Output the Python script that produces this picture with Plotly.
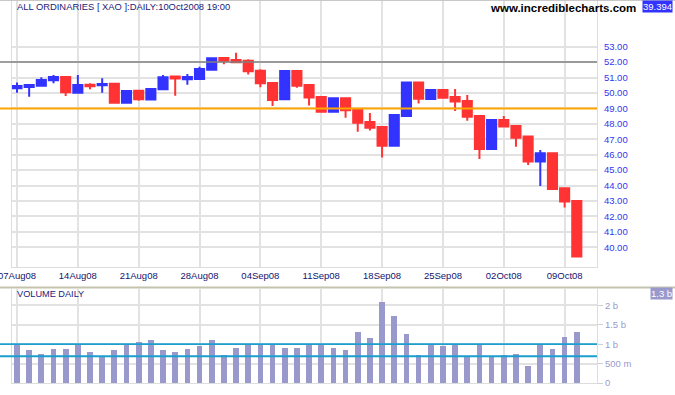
import plotly.graph_objects as go

# ---- data ----
dates = ["2008-08-07", "2008-08-08", "2008-08-11", "2008-08-12", "2008-08-13", "2008-08-14", "2008-08-15",
         "2008-08-18", "2008-08-19", "2008-08-20", "2008-08-21", "2008-08-22", "2008-08-25", "2008-08-26",
         "2008-08-27", "2008-08-28", "2008-08-29", "2008-09-01", "2008-09-02", "2008-09-03", "2008-09-04",
         "2008-09-05", "2008-09-08", "2008-09-09", "2008-09-10", "2008-09-11", "2008-09-12", "2008-09-15",
         "2008-09-16", "2008-09-17", "2008-09-18", "2008-09-19", "2008-09-22", "2008-09-23", "2008-09-24",
         "2008-09-25", "2008-09-26", "2008-09-29", "2008-09-30", "2008-10-01", "2008-10-02", "2008-10-03",
         "2008-10-06", "2008-10-07", "2008-10-08", "2008-10-09", "2008-10-10"]
open_ = [50.30, 50.39, 50.47, 50.82, 51.04, 50.02, 50.54, 50.50, 50.60, 49.37, 50.15, 49.57, 50.24, 51.06,
         50.89, 50.91, 51.51, 52.27, 52.14, 52.09, 51.44, 50.65, 49.59, 51.43, 50.52, 49.74, 48.79, 49.66,
         48.90, 48.12, 47.80, 46.58, 48.50, 50.67, 49.61, 50.19, 49.74, 49.48, 48.51, 46.37, 48.25, 47.86,
         47.17, 45.55, 46.09, 43.82, 43.00]
high = [50.67, 50.52, 51.02, 51.17, 51.04, 51.17, 50.63, 50.95, 50.62, 50.13, 50.15, 50.26, 51.17, 51.06,
        51.23, 51.70, 52.25, 52.27, 52.61, 52.18, 51.54, 50.65, 51.49, 51.43, 50.52, 49.80, 49.66, 49.66,
        48.90, 48.70, 47.85, 48.64, 50.67, 50.67, 50.19, 50.19, 50.26, 49.87, 48.51, 48.25, 48.51, 47.88,
        47.20, 46.31, 46.09, 43.82, 43.00]
low = [50.02, 49.76, 50.47, 50.63, 49.80, 50.02, 50.24, 50.02, 49.37, 49.37, 49.50, 49.57, 50.24, 49.82,
       50.54, 50.91, 51.51, 51.86, 51.92, 51.19, 50.37, 49.16, 49.59, 50.34, 49.18, 48.79, 48.79, 48.40,
       47.49, 47.56, 45.81, 46.58, 48.46, 49.31, 49.55, 49.63, 48.83, 48.20, 45.72, 46.37, 47.80, 46.52,
       45.33, 43.97, 43.71, 42.57, 39.39]
close = [50.45, 50.52, 50.84, 51.04, 50.04, 50.52, 50.43, 50.58, 49.37, 50.13, 49.59, 50.26, 51.02, 50.93,
         51.04, 51.55, 52.25, 52.09, 51.99, 51.41, 50.63, 49.55, 51.43, 50.47, 49.70, 48.79, 49.66, 48.88,
         48.07, 47.75, 46.58, 48.57, 50.67, 49.63, 50.19, 49.69, 49.44, 48.46, 46.37, 48.25, 47.82, 47.10,
         45.55, 46.09, 43.78, 42.96, 39.394]
volume_b = [1.00, 0.84, 0.75, 0.88, 0.88, 1.00, 0.81, 0.69, 0.84, 0.99, 1.05, 1.11, 0.86, 0.81, 0.88, 0.96,
            1.11, 0.73, 0.91, 1.00, 1.00, 1.00, 0.91, 0.91, 1.00, 1.00, 0.91, 0.86, 1.32, 1.17, 2.09, 1.73,
            1.27, 0.73, 1.00, 0.96, 0.99, 0.70, 1.01, 0.69, 0.73, 0.75, 0.45, 0.99, 0.88, 1.19, 1.32]

tick_dates = ["2008-08-07", "2008-08-14", "2008-08-21", "2008-08-28", "2008-09-04",
              "2008-09-11", "2008-09-18", "2008-09-25", "2008-10-02", "2008-10-09"]
tick_labels = ["07Aug08", "14Aug08", "21Aug08", "28Aug08", "04Sep08",
               "11Sep08", "18Sep08", "25Sep08", "02Oct08", "09Oct08"]
price_ticks = [40, 41, 42, 43, 44, 45, 46, 47, 48, 49, 50, 51, 52, 53]
price_tick_labels = ["%.2f" % v for v in price_ticks]
vol_ticks = [0, 0.5, 1.0, 1.5, 2.0]
vol_tick_labels = ["0", "500 m", "1 b", "1.5 b", "2 b"]
price_lines = [52.0, 49.0]
vol_lines = [1.0, 0.69]

BLUE = "#3333ff"
RED = "#ff3333"
NAVY = "#1a1a7a"
GRID = "#e2e2e2"

W, H = 675, 395
ML, MR, MT, MB = 12, 78, 1, 12
PW = W - ML - MR
PH = H - MT - MB


def px_to_paper_x(px):
    return (px - ML) / PW


def px_to_paper_y(py):
    return (H - MB - py) / PH


fig = go.Figure()

fig.add_trace(go.Candlestick(
    x=dates, open=open_, high=high, low=low, close=close,
    increasing=dict(line=dict(color=BLUE, width=2), fillcolor=BLUE),
    decreasing=dict(line=dict(color=RED, width=2), fillcolor=RED),
    whiskerwidth=0, xaxis="x", yaxis="y", showlegend=False, hoverinfo="skip",
))

fig.add_trace(go.Bar(
    x=dates, y=volume_b, marker=dict(color="#9999cc", line=dict(width=0)),
    width=0.47, xaxis="x2", yaxis="y2", showlegend=False, hoverinfo="skip",
))

x_range = [-0.41, len(dates) - 1 + 1.66]

fig.update_layout(
    width=W, height=H,
    margin=dict(l=ML, r=MR, t=MT, b=MB, autoexpand=False),
    paper_bgcolor="white", plot_bgcolor="white",
    boxgap=0.25, boxgroupgap=0,
    font=dict(family="Liberation Sans, Arial, sans-serif", size=9, color=NAVY),
    xaxis=dict(
        type="category", domain=[0, 1], anchor="y", range=x_range, automargin=False,
        tickvals=tick_dates, ticktext=tick_labels, ticks="",
        showgrid=True, gridcolor=GRID, gridwidth=1.5,
        showline=True, linecolor="#dddddd", linewidth=1,
        rangeslider=dict(visible=False),
        tickfont=dict(size=9.5, color="#14146e"),
        fixedrange=True,
    ),
    yaxis=dict(
        domain=[px_to_paper_y(267), 1], anchor="x", side="right", automargin=False,
        range=[38.72, 55.96], tickvals=price_ticks, ticktext=price_tick_labels,
        ticks="", showgrid=True, gridcolor=GRID, gridwidth=1.5,
        showline=True, mirror=True, linecolor="#dddddd", linewidth=1,
        tickfont=dict(size=9.5, color="#3535ee"), ticklabelstandoff=4,
        zeroline=False,
    ),
    xaxis2=dict(
        type="category", domain=[0, 1], anchor="y2", matches="x", automargin=False,
        tickvals=tick_dates, showticklabels=False, ticks="",
        showgrid=True, gridcolor=GRID, gridwidth=1.5,
        showline=True, linecolor="#dddddd", linewidth=1,
    ),
    yaxis2=dict(
        domain=[0, px_to_paper_y(289)], anchor="x2", side="right", automargin=False,
        range=[0, 2.424], tickvals=vol_ticks, ticktext=vol_tick_labels,
        ticks="outside", ticklen=5, tickwidth=1, tickcolor="#cfcfcf",
        showgrid=True, gridcolor=GRID, gridwidth=1.5,
        showline=True, mirror=True, linecolor="#dddddd", linewidth=1,
        tickfont=dict(size=9.5, color="#9a9acc"), ticklabelstandoff=0,
        zeroline=False,
    ),
    bargap=0,
)

shapes = []
# reference lines on price panel
for val, col, wd in zip(price_lines, ["#808080", "#ffa500"], [1.5, 2]):
    shapes.append(dict(type="line", xref="paper", yref="y", x0=px_to_paper_x(0), x1=1,
                       y0=val, y1=val, line=dict(color=col, width=wd), layer="above"))
for val in vol_lines:
    shapes.append(dict(type="line", xref="paper", yref="y2", x0=px_to_paper_x(0), x1=1,
                       y0=val, y1=val, line=dict(color="#1a9fcf", width=1.8), layer="above"))
# top frame line
shapes.append(dict(type="line", xref="paper", yref="paper", x0=px_to_paper_x(0), x1=px_to_paper_x(W),
                   y0=px_to_paper_y(0.5), y1=px_to_paper_y(0.5), line=dict(color="#c8c8c8", width=1)))
# separator between panels
shapes.append(dict(type="line", xref="paper", yref="paper", x0=px_to_paper_x(0), x1=px_to_paper_x(W),
                   y0=px_to_paper_y(287.5), y1=px_to_paper_y(287.5), line=dict(color="#c4c4ae", width=2)))
fig.update_layout(shapes=shapes)

annotations = [
    dict(text="ALL ORDINARIES [ XAO ]:DAILY:10Oct2008 19:00", xref="paper", yref="paper",
         x=px_to_paper_x(15), y=px_to_paper_y(7), xanchor="left", yanchor="middle",
         showarrow=False, font=dict(size=9.4, color=NAVY)),
    dict(text="<b>www.incrediblecharts.com</b>", xref="paper", yref="paper",
         x=px_to_paper_x(638), y=px_to_paper_y(7.5), xanchor="right", yanchor="middle",
         showarrow=False, font=dict(size=11.5, color="black")),
    dict(text="39.394", xref="paper", yref="paper",
         x=px_to_paper_x(673), y=px_to_paper_y(7), xanchor="right", yanchor="middle",
         showarrow=False, font=dict(size=9.5, color="white"), bgcolor=BLUE, borderpad=0),
    dict(text="VOLUME DAILY", xref="paper", yref="paper",
         x=px_to_paper_x(15), y=px_to_paper_y(293.5), xanchor="left", yanchor="middle",
         showarrow=False, font=dict(size=9.2, color=NAVY)),
    dict(text="1.3 b", xref="paper", yref="paper",
         x=px_to_paper_x(673), y=px_to_paper_y(293), xanchor="right", yanchor="middle",
         showarrow=False, font=dict(size=9.5, color="white"), bgcolor="#9999cc", borderpad=0),
]
fig.update_layout(annotations=annotations)

fig.write_html("out.html", config={"displayModeBar": False},
               post_script="document.body.style.margin='0';document.body.style.overflow='hidden';")
